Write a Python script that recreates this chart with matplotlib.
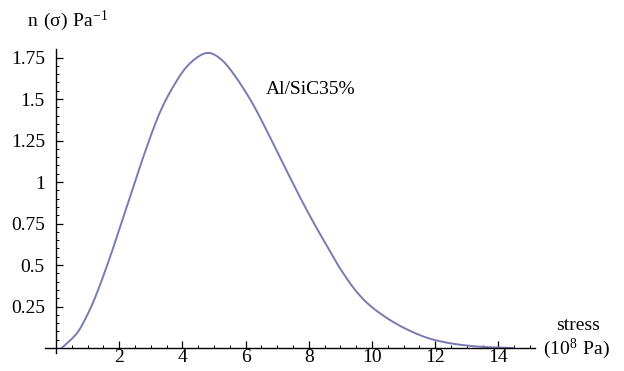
import matplotlib
matplotlib.use('Agg')
import matplotlib.pyplot as plt
import numpy as np
from matplotlib.ticker import FixedLocator, FixedFormatter

# data
stress = [0.18, 0.60, 0.86, 1.23, 1.66, 2.03, 2.29, 2.76, 3.29, 3.82, 4.24, 4.71,
          5.08, 5.51, 6.14, 6.67, 7.19, 7.72, 8.14, 8.56, 8.99, 9.51, 10.04,
          10.78, 11.62, 12.35, 13.1, 13.8, 14.5]
density = [0.0, 0.075, 0.15, 0.30, 0.52, 0.73, 0.88, 1.15, 1.42, 1.61, 1.715, 1.775,
           1.76, 1.68, 1.50, 1.31, 1.11, 0.91, 0.76, 0.62, 0.48, 0.34, 0.24,
           0.145, 0.07, 0.033, 0.013, 0.004, 0.0]
x_ticks = [2, 4, 6, 8, 10, 12, 14]
y_ticks = [0.25, 0.5, 0.75, 1.0, 1.25, 1.5, 1.75]
y_tick_labels = ['0.25', '0.5', '0.75', '1', '1.25', '1.5', '1.75']

plt.rcParams['font.family'] = 'Liberation Serif'
plt.rcParams['mathtext.fontset'] = 'custom'
plt.rcParams['mathtext.rm'] = 'Liberation Serif'


def catmull(px, py, n=20):
    # Catmull-Rom spline through the read points, for a smooth line
    px = np.concatenate([[px[0]], px, [px[-1]]])
    py = np.concatenate([[py[0]], py, [py[-1]]])
    outx, outy = [], []
    t = np.linspace(0, 1, n, endpoint=False)
    for i in range(1, len(px) - 2):
        for arr, out in ((px, outx), (py, outy)):
            p0, p1, p2, p3 = arr[i - 1], arr[i], arr[i + 1], arr[i + 2]
            out.extend(0.5 * (2 * p1 + (-p0 + p2) * t + (2 * p0 - 5 * p1 + 4 * p2 - p3) * t ** 2
                              + (-p0 + 3 * p1 - 3 * p2 + p3) * t ** 3))
    outx.append(px[-2])
    outy.append(py[-2])
    return np.array(outx), np.array(outy)


fig = plt.figure(figsize=(6.24, 3.71), dpi=100)
ax = fig.add_axes([0.0644, 0.0396, 0.800, 0.850])

cx, cy = catmull(np.array(stress), np.array(density))
ax.plot(cx, cy, color='#7a7ab2', lw=1.4)

ax.set_xlim(-0.5, 15.3)
ax.set_ylim(-0.05, 1.85)

ax.spines['top'].set_visible(False)
ax.spines['right'].set_visible(False)
ax.spines['left'].set_position(('data', 0))
ax.spines['bottom'].set_position(('data', 0))
ax.spines['left'].set_bounds(-0.03, 1.80)
ax.spines['bottom'].set_bounds(-0.35, 15.15)
ax.spines['left'].set_linewidth(1.0)
ax.spines['bottom'].set_linewidth(1.0)

ax.xaxis.set_major_locator(FixedLocator(x_ticks))
ax.xaxis.set_minor_locator(FixedLocator(np.arange(0.5, 15.01, 0.5)))
ax.yaxis.set_major_locator(FixedLocator(y_ticks))
ax.yaxis.set_major_formatter(FixedFormatter(y_tick_labels))
ax.yaxis.set_minor_locator(FixedLocator(np.arange(0.05, 1.80, 0.05)))
ax.tick_params(which='major', direction='in', length=5, width=0.9, labelsize=14)
ax.tick_params(which='minor', direction='in', length=2.5, width=0.7)
ax.tick_params(axis='y', which='major', pad=8)
ax.tick_params(axis='x', which='major', pad=1)

ax.text(8.07, 1.56, 'Al/SiC35%', fontsize=14, ha='center', va='center')
fig.text(27 / 624, 1 - 21 / 371, r'$\mathregular{n\ (σ)\ Pa^{-1}}$', fontsize=14,
         ha='left', va='center')
fig.text(578 / 624, 1 - 325 / 371, 'stress', fontsize=14, ha='center', va='center')
fig.text(543 / 624, 1 - 349 / 371, r'$\mathregular{(10^8\ Pa)}$', fontsize=14,
         ha='left', va='center')

fig.savefig('out.png', dpi=100)
